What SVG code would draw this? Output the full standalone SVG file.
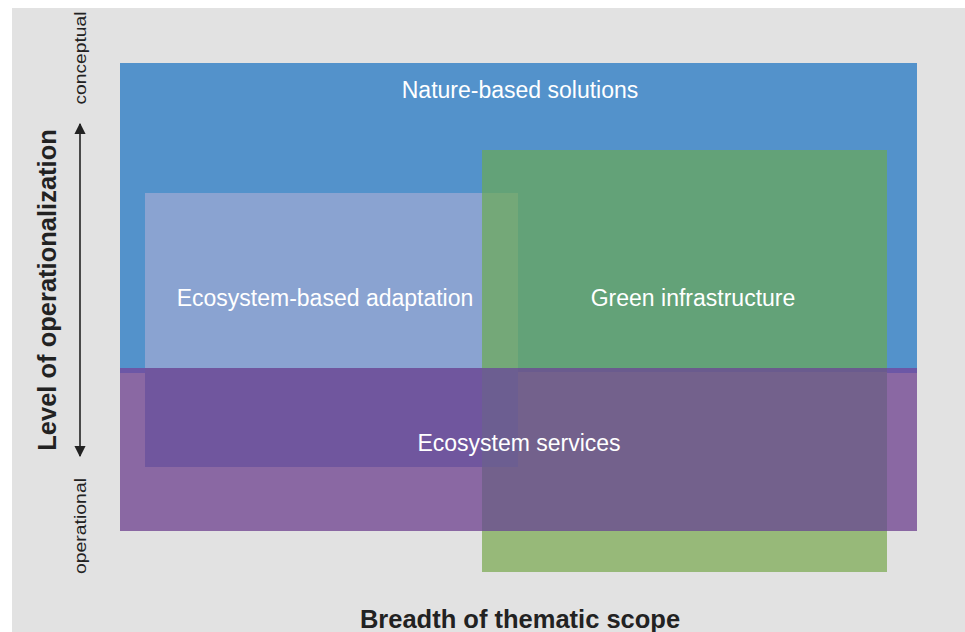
<svg xmlns="http://www.w3.org/2000/svg" width="965" height="632" viewBox="0 0 965 632">
<defs>
<style>
.lbl{font-family:"Liberation Sans",Arial,sans-serif;font-size:23px;fill:#ffffff;text-anchor:middle}
.axis{font-family:"Liberation Sans",Arial,sans-serif;fill:#222222;text-anchor:middle}
.ax-title{font-size:25.5px;font-weight:bold}
.ax-end{font-size:16px}
.conn{stroke:#222222;stroke-width:1.6;fill:none}
</style>
<marker id="ah" viewBox="0 0 10 10" refX="9" refY="5" markerWidth="7" markerHeight="7" orient="auto-start-reverse">
<path d="M0,0 L10,5 L0,10 z" fill="#222222"/>
</marker>
</defs>
<rect x="0" y="0" width="965" height="632" fill="#ffffff"/>
<rect x="12" y="8" width="953" height="624" fill="#e2e2e2"/>

<g id="nbs">
<rect x="120" y="63" width="797" height="310" fill="#5392cb"/>
<text class="lbl" x="520" y="98">Nature-based solutions</text>
</g>

<g id="gi">
<rect x="482" y="150" width="405" height="422" fill="#97b979"/>
<rect x="482" y="150" width="405" height="218" fill="#63a278"/>
<text class="lbl" x="693" y="306">Green infrastructure</text>
</g>

<g id="eba">
<rect x="145" y="193" width="337" height="175" fill="#8aa3d1"/>
<rect x="482" y="193" width="36" height="175" fill="#74a878"/>
<text class="lbl" x="325" y="306">Ecosystem-based adaptation</text>
</g>

<g id="es">
<rect x="120" y="373" width="797" height="158" fill="#8a68a3"/>
<rect x="120" y="368" width="25" height="5" fill="#6c57a6"/>
<rect x="887" y="368" width="30" height="5" fill="#6c57a6"/>
<rect x="145" y="368" width="337" height="99" fill="#70569e"/>
<rect x="482" y="368" width="405" height="163" fill="#73618c"/>
<rect x="482" y="368" width="36" height="99" fill="#6c5e91"/>
<rect x="518" y="368" width="369" height="4" fill="#6a5b8e"/>
<text class="lbl" x="519" y="451">Ecosystem services</text>
</g>

<g id="connectors">
<line class="conn" x1="80" y1="456" x2="80" y2="124" marker-start="url(#ah)" marker-end="url(#ah)"/>
</g>

<g id="axis-y">
<text class="axis ax-title" transform="translate(56,290) rotate(-90)">Level of operationalization</text>
<text class="axis ax-end" transform="translate(86,58) rotate(-90)" textLength="93" lengthAdjust="spacingAndGlyphs">conceptual</text>
<text class="axis ax-end" transform="translate(86,526) rotate(-90)" textLength="96" lengthAdjust="spacingAndGlyphs">operational</text>
</g>
<g id="axis-x">
<text class="axis ax-title" x="520" y="628">Breadth of thematic scope</text>
</g>
</svg>
